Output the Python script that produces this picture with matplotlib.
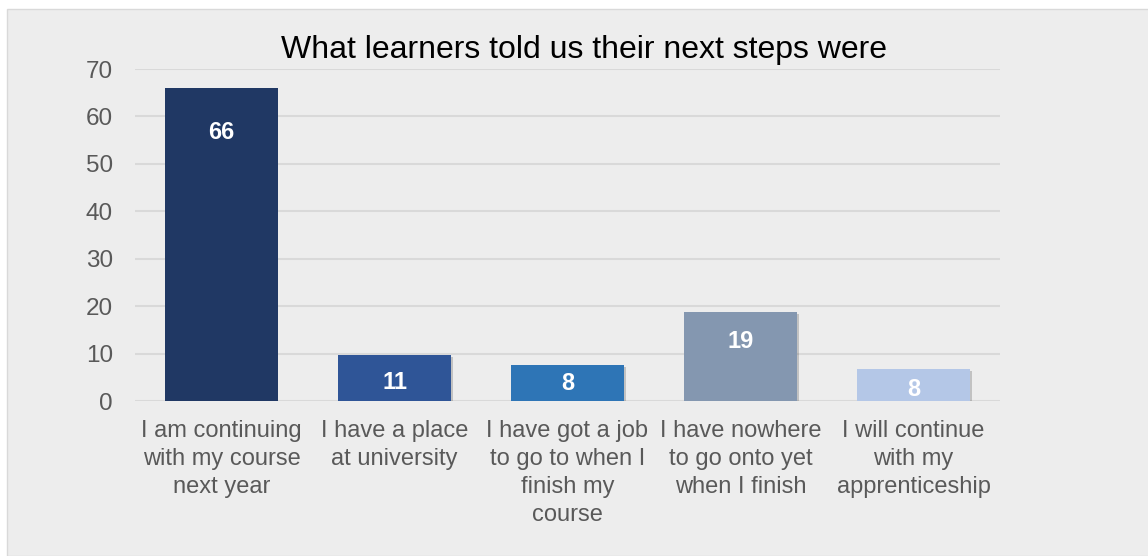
import matplotlib.pyplot as plt
import matplotlib.patches as mpatches
import matplotlib.patheffects as pe
import numpy as np

plt.rcParams['font.family'] = ['Liberation Sans', 'DejaVu Sans']

# data (bar heights as drawn, labels as printed)
categories = ["I am continuing\nwith my course\nnext year",
              "I have a place\nat university",
              "I have got a job\nto go to when I\nfinish my\ncourse",
              "I have nowhere\nto go onto yet\nwhen I finish",
              "I will continue\nwith my\napprenticeship"]
heights = [66, 9.7, 7.6, 18.8, 6.8]
labels = ["66", "11", "8", "19", "8"]

colors = ["#203864", "#2F5597", "#2E75B6", "#8497B0", "#B4C7E7"]
label_drop = [45, 28, 19, 30, 21]  # px below bar top

W, H = 1148, 556
fig = plt.figure(figsize=(11.48, 5.56), dpi=100)
fig.patch.set_facecolor("white")
# grey chart area box
fig.patches.append(mpatches.Rectangle((7/W, 0), 1, 1 - 9/H, transform=fig.transFigure,
                                      facecolor="#EDEDED", edgecolor="#D9D9D9", lw=1, zorder=-5))

ax = fig.add_axes([135/W, 1 - 401/H, 865/W, (401 - 69)/H])
ax.set_facecolor("none")

x = np.arange(len(categories))
bars = ax.bar(x, heights, width=0.65, color=colors, zorder=3)
for i, b in enumerate(bars):
    if i > 0:
        b.set_path_effects([pe.SimplePatchShadow(offset=(1.5, -1.5), alpha=0.25, shadow_rgbFace="#444444"),
                            pe.Normal()])

for i, b in enumerate(bars):
    ax.annotate(labels[i], (b.get_x() + b.get_width()/2, b.get_height()),
                xytext=(0, -label_drop[i]*0.72), textcoords="offset points",
                ha="center", va="center", color="white", fontsize=17, fontweight="bold", zorder=4)

ax.set_xlim(-0.5, len(categories) - 0.5)
ax.set_ylim(0, 70)
ax.set_yticks(range(0, 71, 10))
ax.grid(axis="y", color="#D9D9D9", lw=1.5, zorder=0)
for s in ax.spines.values():
    s.set_visible(False)
ax.tick_params(axis="y", length=0, labelsize=17.5, labelcolor="#595959", pad=16)
ax.tick_params(axis="x", length=0, labelcolor="#595959", pad=14)
ax.set_xticks(x)
ax.set_xticklabels(categories, fontsize=17, linespacing=1.35)

fig.text(584/W, 1 - 50/H, "What learners told us their next steps were",
         ha="center", va="center", fontsize=23, color="black")

fig.savefig("out.png", dpi=100)
